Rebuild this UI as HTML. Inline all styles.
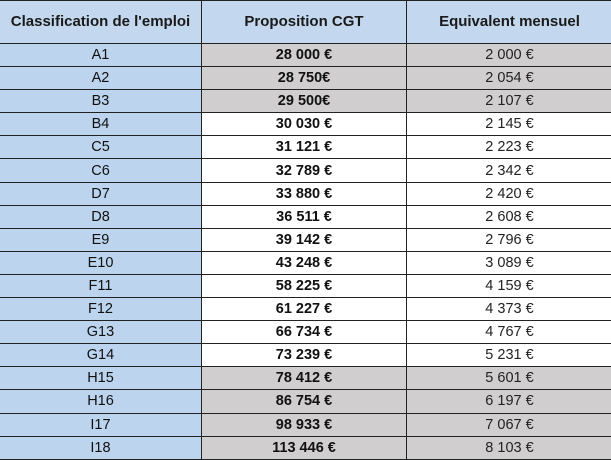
<!DOCTYPE html>
<html><head><meta charset="utf-8"><style>
body{margin:0;width:611px;height:460px;overflow:hidden;background:#fff;font-family:"Liberation Sans",sans-serif;}
table{border-collapse:collapse;position:absolute;left:-1px;top:0;width:613px;table-layout:fixed;}
td{border:1px solid #222;text-align:center;font-size:14.5px;height:22.1px;padding:0;color:#111;line-height:14px;}
tr.h td{height:42px;background:#c3d8ee;font-weight:bold;font-size:15px;color:#1a1a1a;}
td.c1{background:#bcd4ee;}
td.c2{font-weight:bold;}
td.c3{color:#222;}
tr.g td.c2,tr.g td.c3{background:#d0cece;}
</style></head><body>
<table>
<colgroup><col style="width:202px"><col style="width:205px"><col style="width:206px"></colgroup>
<tr class="h"><td>Classification de l'emploi</td><td>Proposition CGT</td><td>Equivalent mensuel</td></tr>
<tr class="g"><td class="c1">A1</td><td class="c2">28 000 €</td><td class="c3">2 000 €</td></tr>
<tr class="g"><td class="c1">A2</td><td class="c2">28 750€</td><td class="c3">2 054 €</td></tr>
<tr class="g"><td class="c1">B3</td><td class="c2">29 500€</td><td class="c3">2 107 €</td></tr>
<tr><td class="c1">B4</td><td class="c2">30 030 €</td><td class="c3">2 145 €</td></tr>
<tr><td class="c1">C5</td><td class="c2">31 121 €</td><td class="c3">2 223 €</td></tr>
<tr><td class="c1">C6</td><td class="c2">32 789 €</td><td class="c3">2 342 €</td></tr>
<tr><td class="c1">D7</td><td class="c2">33 880 €</td><td class="c3">2 420 €</td></tr>
<tr><td class="c1">D8</td><td class="c2">36 511 €</td><td class="c3">2 608 €</td></tr>
<tr><td class="c1">E9</td><td class="c2">39 142 €</td><td class="c3">2 796 €</td></tr>
<tr><td class="c1">E10</td><td class="c2">43 248 €</td><td class="c3">3 089 €</td></tr>
<tr><td class="c1">F11</td><td class="c2">58 225 €</td><td class="c3">4 159 €</td></tr>
<tr><td class="c1">F12</td><td class="c2">61 227 €</td><td class="c3">4 373 €</td></tr>
<tr><td class="c1">G13</td><td class="c2">66 734 €</td><td class="c3">4 767 €</td></tr>
<tr><td class="c1">G14</td><td class="c2">73 239 €</td><td class="c3">5 231 €</td></tr>
<tr class="g"><td class="c1">H15</td><td class="c2">78 412 €</td><td class="c3">5 601 €</td></tr>
<tr class="g"><td class="c1">H16</td><td class="c2">86 754 €</td><td class="c3">6 197 €</td></tr>
<tr class="g"><td class="c1">I17</td><td class="c2">98 933 €</td><td class="c3">7 067 €</td></tr>
<tr class="g"><td class="c1">I18</td><td class="c2">113 446 €</td><td class="c3">8 103 €</td></tr>
</table>
</body></html>
